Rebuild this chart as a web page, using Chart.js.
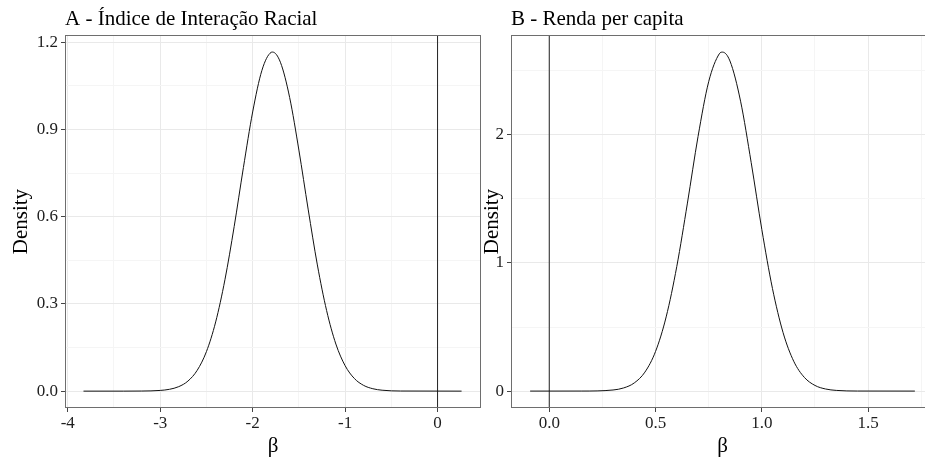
<!DOCTYPE html>
<html lang="pt">
<head>
<meta charset="UTF-8" />
<title>Densidade posterior</title>
<script src="https://cdn.jsdelivr.net/npm/chart.js@4.4.1/dist/chart.umd.min.js"></script>
<style>
  html, body { margin: 0; padding: 0; overflow: hidden; background: #fff; }
  .wrap { position: relative; width: 925px; height: 459px; overflow: hidden; }
  .wrap canvas { position: absolute; left: 0; top: 0; }
</style>
</head>
<body>
<div class="wrap">
  <canvas id="chartA" width="940" height="459"></canvas>
  <canvas id="chartB" width="940" height="459"></canvas>
</div>
<script>
// painel A - Indice de Interacao Racial
const betaA = [-3.83, -3.4, -3.2, -3.0, -2.9, -2.8, -2.7, -2.6, -2.5, -2.4, -2.3, -2.2, -2.1, -2.0, -1.9, -1.8, -1.785,
  -1.7, -1.6, -1.5, -1.4, -1.3, -1.2, -1.1, -1.0, -0.9, -0.8, -0.7, -0.6, -0.4, 0.26];
const densA = [0, 0, 0.0003, 0.0024, 0.0063, 0.0154, 0.0346, 0.0716, 0.136, 0.238, 0.383, 0.566, 0.769, 0.960, 1.103, 1.165, 1.166,
  1.131, 1.010, 0.829, 0.626, 0.434, 0.277, 0.162, 0.0876, 0.0435, 0.0198, 0.0083, 0.0032, 0.0004, 0];
const xTicksA = [-4, -3, -2, -1, 0];
const yTicksA = [0, 0.3, 0.6, 0.9, 1.2];

// painel B - Renda per capita
const betaB = [-0.09, 0.15, 0.3, 0.35, 0.40, 0.45, 0.50, 0.55, 0.60, 0.65, 0.70, 0.75, 0.80, 0.815, 0.85, 0.90, 0.95,
  1.00, 1.05, 1.10, 1.15, 1.20, 1.25, 1.30, 1.35, 1.45, 1.72];
const densB = [0, 0.0002, 0.0085, 0.0246, 0.0637, 0.148, 0.309, 0.579, 0.973, 1.467, 1.987, 2.414, 2.632, 2.645, 2.576, 2.262, 1.783,
  1.261, 0.801, 0.456, 0.233, 0.107, 0.0441, 0.0163, 0.0054, 0.0004, 0];
const xTicksB = [0, 0.5, 1.0, 1.5];
const yTicksB = [0, 1, 2];

// linha vertical em zero
const vlineX = 0;

const FONT = "'Liberation Serif', 'DejaVu Serif', serif";

// borda do painel (theme_bw)
const panelBorder = {
  id: "panelBorder",
  afterDraw(chart) {
    const a = chart.chartArea;
    const ctx = chart.ctx;
    ctx.save();
    ctx.strokeStyle = "#6e6e6e";
    ctx.lineWidth = 1;
    ctx.strokeRect(Math.round(a.left) + 0.5, Math.round(a.top) + 0.5,
      Math.round(a.right - a.left) - 1, Math.round(a.bottom - a.top) - 1);
    ctx.restore();
  },
};

// ticks maiores + menores (meio do caminho)
function allTicks(major, min, max) {
  const step = major[1] - major[0];
  const out = major.slice();
  for (let v = major[0] - step / 2; v <= major[major.length - 1] + step / 2 + 1e-9; v += step) {
    if (v >= min && v <= max) out.push(+v.toFixed(6));
  }
  return out.sort((a, b) => a - b);
}

function isMajor(major, v) {
  return major.some((m) => Math.abs(m - v) < 1e-6);
}

function makePanel(el, cfg) {
  const xVals = allTicks(cfg.xMajor, cfg.xMin, cfg.xMax);
  const yVals = allTicks(cfg.yMajor, cfg.yMin, cfg.yMax);
  const points = cfg.x.map((v, i) => ({ x: v, y: cfg.y[i] }));

  const axis = (major, vals, min, max, fmt, extra) => ({
    type: "linear",
    min: min,
    max: max,
    afterBuildTicks: (scale) => {
      scale.ticks = vals.map((v) => ({ value: v }));
    },
    ticks: {
      autoSkip: false,
      maxRotation: 0,
      includeBounds: false,
      color: "#1e1e1e",
      font: { family: FONT, size: 17 },
      padding: extra.tickPad,
      callback: (v) => (isMajor(major, v) ? fmt(v) : ""),
    },
    grid: {
      color: (c) => (c.tick && isMajor(major, c.tick.value) ? "#e9e9e9" : "#f5f5f5"),
      tickColor: (c) => (c.tick && isMajor(major, c.tick.value) ? "#444" : "rgba(0,0,0,0)"),
      tickLength: 4,
      lineWidth: 1,
    },
    border: { display: false },
    title: {
      display: true,
      text: extra.title,
      color: "#000",
      font: { family: FONT, size: 21 },
      padding: extra.titlePad,
    },
    afterFit: extra.fit,
  });

  return new Chart(el, {
    type: "scatter",
    data: {
      datasets: [
        {
          data: points,
          showLine: true,
          borderColor: "#111",
          borderWidth: 1,
          pointRadius: 0,
          cubicInterpolationMode: "monotone",
        },
        {
          data: [{ x: vlineX, y: cfg.yMin }, { x: vlineX, y: cfg.yMax }],
          showLine: true,
          borderColor: "#222",
          borderWidth: 1,
          pointRadius: 0,
        },
      ],
    },
    options: {
      responsive: false,
      animation: false,
      layout: { padding: cfg.pad },
      plugins: {
        legend: { display: false },
        tooltip: { enabled: false },
        title: {
          display: true,
          text: cfg.title,
          align: "start",
          fullSize: false,
          color: "#000",
          font: { family: FONT, size: 21, weight: "normal" },
          padding: { top: 7, bottom: 3 },
        },
      },
      scales: {
        x: axis(cfg.xMajor, xVals, cfg.xMin, cfg.xMax, cfg.xFmt, {
          title: "β",
          titlePad: { top: 0, bottom: 0 },
          tickPad: 1,
          fit: (s) => { s.height = 51; },
        }),
        y: axis(cfg.yMajor, yVals, cfg.yMin, cfg.yMax, cfg.yFmt, {
          title: "Density",
          titlePad: { top: cfg.yTitlePad, bottom: 0 },
          tickPad: 3,
          fit: (s) => { s.width = cfg.yWidth; },
        }),
      },
    },
    plugins: [panelBorder],
  });
}

makePanel(document.getElementById("chartA"), {
  title: "A - Índice de Interação Racial",
  x: betaA, y: densA,
  xMajor: xTicksA, yMajor: yTicksA,
  xMin: -4.03, xMax: 0.47, yMin: -0.058, yMax: 1.224,
  xFmt: (v) => String(v), yFmt: (v) => v.toFixed(1),
  pad: { left: 0, right: 940 - 481, top: 0, bottom: 0 },
  yWidth: 65, yTitlePad: 9,
});

makePanel(document.getElementById("chartB"), {
  title: "B - Renda per capita",
  x: betaB, y: densB,
  xMajor: xTicksB, yMajor: yTicksB,
  xMin: -0.18, xMax: 1.81, yMin: -0.132, yMax: 2.777,
  xFmt: (v) => v.toFixed(1), yFmt: (v) => String(v),
  pad: { left: 480, right: 6, top: 0, bottom: 0 },
  yWidth: 31, yTitlePad: 0,
});
</script>
</body>
</html>
